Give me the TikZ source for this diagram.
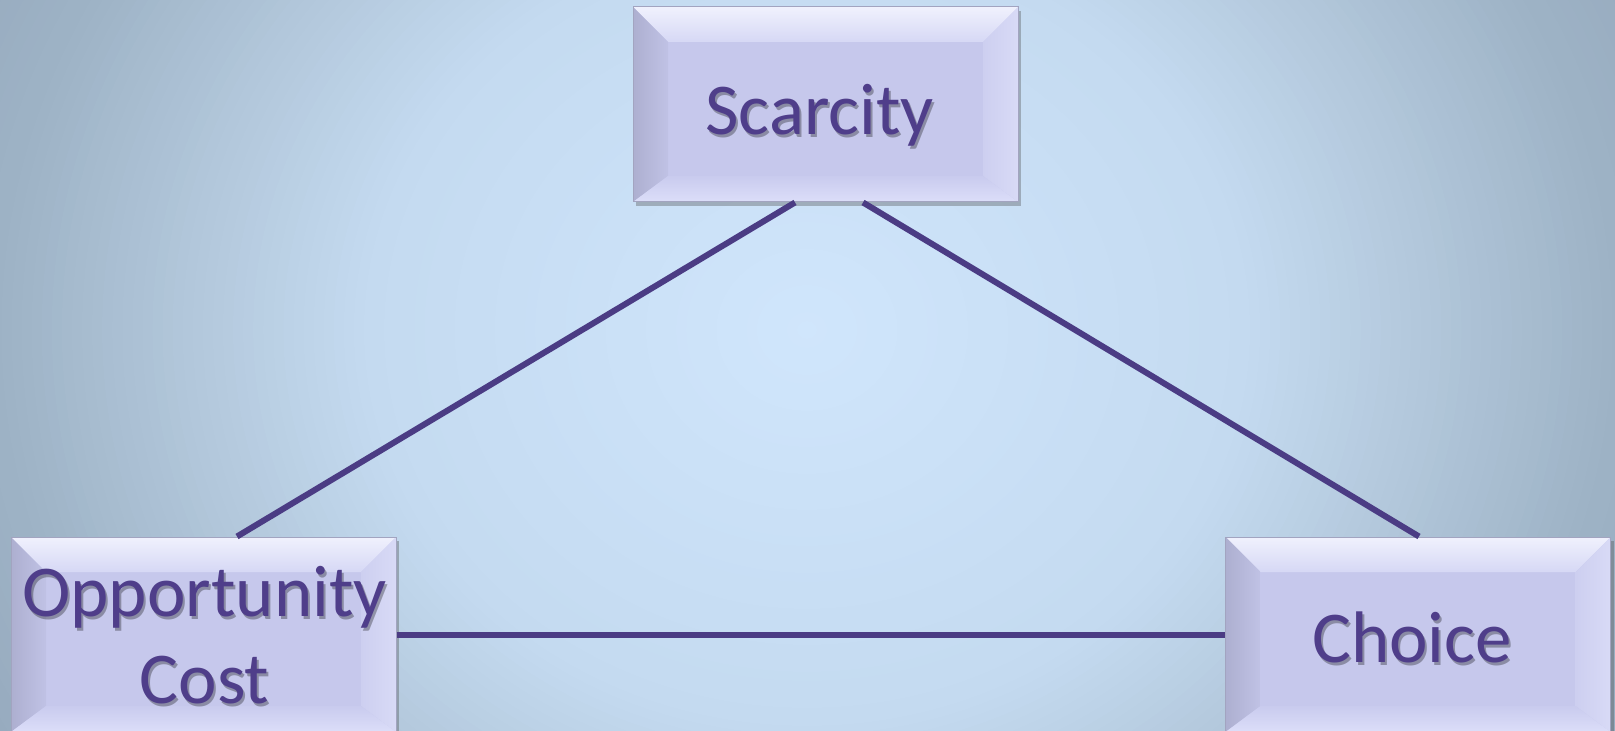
\documentclass[tikz,border=0pt]{standalone}
\usepackage{fontspec}
\setmainfont{Carlito}
\usetikzlibrary{calc,shadows}
\definecolor{bgA}{HTML}{D0E6FC}
\definecolor{bgB}{HTML}{C4DAF0}
\definecolor{bgC}{HTML}{B4C9DD}
\definecolor{bgD}{HTML}{9EB3C6}
\definecolor{bgE}{HTML}{93A6BA}
\definecolor{face}{HTML}{C6C8EC}
\definecolor{boxedge}{HTML}{A2A4C0}
\definecolor{bevT}{HTML}{F0F1FD}
\definecolor{bevTb}{HTML}{D6D8F5}
\definecolor{bevL}{HTML}{ADAFD0}
\definecolor{bevLb}{HTML}{C0C2E5}
\definecolor{bevR}{HTML}{CDCFF0}
\definecolor{bevRb}{HTML}{D8DAF6}
\definecolor{bevB}{HTML}{C9CBEE}
\definecolor{bevBb}{HTML}{DCDEF9}
\definecolor{txtc}{HTML}{4F3E8A}
\definecolor{linec}{HTML}{4B3C84}
\newcommand\bevels{%
  \coordinate (pnw) at (path picture bounding box.north west);
  \coordinate (pne) at (path picture bounding box.north east);
  \coordinate (pse) at (path picture bounding box.south east);
  \coordinate (psw) at (path picture bounding box.south west);
  \coordinate (inw) at ($(pnw)+(35,35)$);
  \coordinate (ine) at ($(pne)+(-35,35)$);
  \coordinate (ise) at ($(pse)+(-35,-26)$);
  \coordinate (isw) at ($(psw)+(35,-26)$);
  \shade[top color=bevT, bottom color=bevTb] (pnw) -- (pne) -- (ine) -- (inw) -- cycle;
  \shade[left color=bevL, right color=bevLb] (pnw) -- (inw) -- (isw) -- (psw) -- cycle;
  \shade[left color=bevR, right color=bevRb] (pne) -- (pse) -- (ise) -- (ine) -- cycle;
  \shade[top color=bevB, bottom color=bevBb] (psw) -- (isw) -- (ise) -- (pse) -- cycle;
}
\tikzset{
  bbox/.style={minimum width=192.5pt, minimum height=97.5pt, inner sep=0pt,
    fill=face, draw=boxedge, line width=0.5pt,
    drop shadow={shadow xshift=1.5pt, shadow yshift=-2pt, opacity=0.35, fill=black!70},
    path picture={\bevels}},
  lbl/.style={text=txtc, inner sep=0pt, anchor=base, font=\fontsize{36.5}{43.5}\selectfont},
  lblsh/.style={lbl, text=black, opacity=0.3},
  conn/.style={draw=linec, line width=3pt}
}
\begin{document}
\begin{tikzpicture}[x=0.5pt,y=-0.5pt]
\useasboundingbox (0,0) rectangle (1615,731);
% background: concentric ellipses approximating a radial gradient
\begin{scope}
\clip (0,0) rectangle (1615,731);
\fill[bgE] (0,0) rectangle (1615,731);
\foreach \d in {50,49.5,...,40.5} {
  \pgfmathtruncatemacro\p{(\d-40)*10}
  \fill[bgE!\p!bgD] (807,330) ellipse [x radius={\d/50*1007}, y radius={\d/50*900}];
}
\foreach \d in {40,39.5,...,30.5} {
  \pgfmathtruncatemacro\p{(\d-30)*10}
  \fill[bgD!\p!bgC] (807,330) ellipse [x radius={\d/50*1007}, y radius={\d/50*900}];
}
\foreach \d in {30,29.5,...,22.5} {
  \pgfmathtruncatemacro\p{(\d-22)*12.5}
  \fill[bgC!\p!bgB] (807,330) ellipse [x radius={\d/50*1007}, y radius={\d/50*900}];
}
\foreach \d in {22,21.5,...,0.5} {
  \pgfmathtruncatemacro\p{\d/22*100}
  \fill[bgB!\p!bgA] (807,330) ellipse [x radius={\d/50*1007}, y radius={\d/50*900}];
}
\end{scope}
% boxes
\node[bbox] (sc) at (825.5,104.5) {};
\node[bbox] (oc) at (203.5,634.5) {};
\node[bbox] (ch) at (1418,634.5) {};
% connectors
\draw[conn] ([xshift=-15.25pt]sc.south) -- ([xshift=16.75pt]oc.north);
\draw[conn] ([xshift=18.75pt]sc.south) -- ([xshift=0.5pt]ch.north);
\draw[conn] (oc.east) -- (ch.west);
% labels
\node[lblsh] (scs) at ([xshift=-2pt,yshift=-16.5pt]sc.center) {Scarcity};
\node[lbl] (sct) at ([xshift=-3pt,yshift=-15pt]sc.center) {Scarcity};
\node[lblsh] (ocs) at ([xshift=1.5pt,yshift=7.5pt]oc.center) {\begin{tabular}[t]{@{}c@{}}Opportunity\\Cost\end{tabular}};
\node[lbl] (oct) at ([xshift=0.5pt,yshift=9pt]oc.center) {\begin{tabular}[t]{@{}c@{}}Opportunity\\Cost\end{tabular}};
\node[lblsh] (chs) at ([xshift=-2pt,yshift=-15.5pt]ch.center) {Choice};
\node[lbl] (cht) at ([xshift=-3pt,yshift=-14pt]ch.center) {Choice};
\end{tikzpicture}
\end{document}
